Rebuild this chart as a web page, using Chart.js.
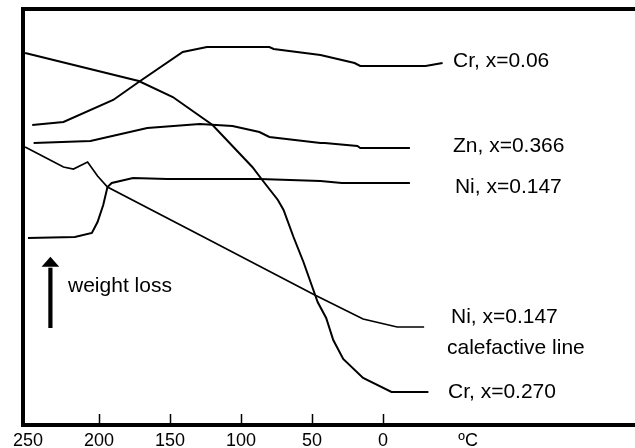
<!DOCTYPE html>
<html><head><meta charset="utf-8">
<script src="https://cdn.jsdelivr.net/npm/chart.js@4"></script>
<style>html,body{margin:0;padding:0;background:#fff;overflow:hidden}canvas{display:block}</style>
</head><body>
<canvas id="c" width="635" height="448"></canvas>
<script>
// X axis: temperature (ºC), reversed; Y axis: relative weight loss (arbitrary units)
const tickValues = [250, 200, 150, 100, 50, 0, -60];
const tickLabels = ['250', '200', '150', '100', '50', '0', 'ºC'];

const cr270Temp = [252, 172, 148, 120, 92, 85, 74, 70, 63, 56, 51, 46, 40, 35, 28, 14, -6, -32];
const cr270Loss = [372, 344, 328, 300, 258, 245, 225, 215, 188, 163, 143, 123, 107, 85, 66, 47, 33, 33];

const cr006Temp = [247, 225, 190, 172, 141, 124, 80, 77, 44, 20, 16, -30, -42];
const cr006Loss = [300, 303, 325, 343, 373, 378, 378, 376, 370, 362, 359, 359, 362];

const zn366Temp = [246, 206, 166, 129, 106, 87, 80, 44, 41, 18, 16, -19];
const zn366Loss = [282, 284, 297, 301, 299, 293, 288, 282, 282, 279, 277, 277];

const ni147Temp = [250, 217, 205, 201, 197, 194, 191, 176, 152, 87, 44, 29, -19];
const ni147Loss = [187, 188, 192, 203, 220, 238, 242, 247, 246, 246, 244, 242, 242];

const ni147CalTemp = [252, 225, 218, 208, 201, 194, 129, 48, 14, -10, -29];
const ni147CalLoss = [278, 258, 256, 263, 249, 238, 190, 130, 106, 98, 98];

const seriesNames = ['Cr, x=0.270', 'Cr, x=0.06', 'Zn, x=0.366', 'Ni, x=0.147', 'Ni, x=0.147 calefactive line'];

// Text annotations (anchored in data coordinates)
const noteText = ['Cr, x=0.06', 'Zn, x=0.366', 'Ni, x=0.147', 'Ni, x=0.147', 'calefactive line', 'Cr, x=0.270', 'weight loss'];
const noteTemp = [-49.3, -49.3, -50.7, -47.9, -45.1, -45.8, 221.8];
const noteLoss = [358, 273, 232, 102, 71, 27, 133];

const FONT = 'Arial, "Liberation Sans", Helvetica, sans-serif';

function pts(xs, ys) { return xs.map((x, i) => ({x: x, y: ys[i]})); }
function ds(label, xs, ys, w) {
  return {label: label, data: pts(xs, ys), showLine: true, borderColor: '#000',
    backgroundColor: '#000', borderWidth: w, pointRadius: 0, tension: 0, fill: false};
}

const framePlugin = {
  id: 'frame',
  afterDraw(chart) {
    const ctx = chart.ctx, a = chart.chartArea, xs = chart.scales.x, ys = chart.scales.y;
    ctx.save();
    ctx.strokeStyle = '#000';
    ctx.lineWidth = 4;
    ctx.lineCap = 'butt';
    ctx.beginPath();
    ctx.moveTo(a.left, a.bottom); ctx.lineTo(a.left, a.top - 2);
    ctx.moveTo(a.left - 2, a.top); ctx.lineTo(a.right + 10, a.top);
    ctx.moveTo(a.left - 2, a.bottom); ctx.lineTo(a.right + 10, a.bottom);
    ctx.stroke();
    // inner tick marks
    ctx.lineWidth = 1.5;
    ctx.beginPath();
    tickValues.slice(1, 6).forEach(v => {
      const px = Math.round(xs.getPixelForValue(v)) + 0.5;
      ctx.moveTo(px, a.bottom - 2); ctx.lineTo(px, a.bottom - 11);
    });
    ctx.stroke();
    // annotations
    ctx.fillStyle = '#000';
    ctx.font = '21px ' + FONT;
    ctx.textBaseline = 'alphabetic';
    ctx.textAlign = 'left';
    noteText.forEach((t, i) => {
      ctx.fillText(t, xs.getPixelForValue(noteTemp[i]), ys.getPixelForValue(noteLoss[i]));
    });
    // weight loss arrow
    const ax = xs.getPixelForValue(234.2);
    const yb = ys.getPixelForValue(97), yh = ys.getPixelForValue(158.3), yt = ys.getPixelForValue(168.3);
    ctx.lineWidth = 4.2;
    ctx.beginPath(); ctx.moveTo(ax, yb); ctx.lineTo(ax, yh + 1); ctx.stroke();
    ctx.beginPath(); ctx.moveTo(ax, yt); ctx.lineTo(ax - 8.8, yh); ctx.lineTo(ax + 8.8, yh); ctx.closePath(); ctx.fill();
    ctx.restore();
  }
};

new Chart(document.getElementById('c').getContext('2d'), {
  type: 'scatter',
  data: {datasets: [
    ds(seriesNames[0], cr270Temp, cr270Loss, 2),
    ds(seriesNames[1], cr006Temp, cr006Loss, 2),
    ds(seriesNames[2], zn366Temp, zn366Loss, 2),
    ds(seriesNames[3], ni147Temp, ni147Loss, 2),
    ds(seriesNames[4], ni147CalTemp, ni147CalLoss, 1.7)
  ]},
  options: {
    responsive: false, animation: false, devicePixelRatio: 1,
    layout: {padding: {left: 23, top: 9, right: 0, bottom: 0}},
    plugins: {legend: {display: false}, tooltip: {enabled: false}},
    scales: {
      x: {
        type: 'linear', reverse: true, min: -177.5, max: 253.5,
        afterBuildTicks: s => { s.ticks = tickValues.map(v => ({value: v})); },
        afterFit: s => { s.height = 23; },
        grid: {display: false, drawTicks: false},
        border: {display: false},
        ticks: {
          autoSkip: false, maxRotation: 0, padding: 5, color: '#000',
          font: {family: FONT, size: 18},
          callback: v => { const i = tickValues.indexOf(v); return i >= 0 ? tickLabels[i] : ''; }
        }
      },
      y: {type: 'linear', min: 0, max: 416, display: false}
    }
  },
  plugins: [framePlugin]
});
</script>
</body></html>
